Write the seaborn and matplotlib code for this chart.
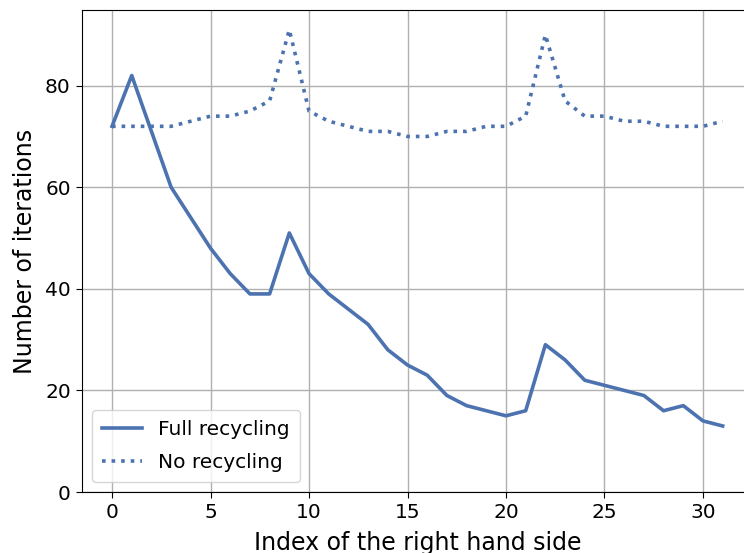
import matplotlib
matplotlib.use("Agg")
import matplotlib.pyplot as plt
import seaborn as sns
import pandas as pd

rhs_index = list(range(32))
full_recycling = [72, 82, 71, 60, 54, 48, 43, 39, 39, 51, 43, 39, 36, 33, 28, 25,
                  23, 19, 17, 16, 15, 16, 29, 26, 22, 21, 20, 19, 16, 17, 14, 13]
no_recycling = [72, 72, 72, 72, 73, 74, 74, 75, 77, 91, 75, 73, 72, 71, 71, 70,
                70, 71, 71, 72, 72, 74, 90, 77, 74, 74, 73, 73, 72, 72, 72, 73]
series_labels = ["Full recycling", "No recycling"]

df = pd.DataFrame({"idx": rhs_index, "full": full_recycling, "no": no_recycling})

fig = plt.figure(figsize=(7.44, 5.53), dpi=100)
ax = fig.add_axes([81.5 / 744, 61 / 553, 671.7 / 744, 482 / 553])
color = "#4c72b0"
sns.lineplot(data=df, x="idx", y="full", ax=ax, color=color, linewidth=2.6,
             label=series_labels[0])
sns.lineplot(data=df, x="idx", y="no", ax=ax, color=color, linewidth=2.6,
             linestyle=":", label=series_labels[1])
ax.set_ylim(bottom=0)
ax.grid(True, color="#b0b0b0", linewidth=1.0)
ax.set_axisbelow(True)
ax.set_xlabel("Index of the right hand side", fontsize=17, labelpad=7)
ax.set_ylabel("Number of iterations", fontsize=17, labelpad=6)
ax.tick_params(labelsize=14.5, length=4.2)
ax.legend(loc="lower left", fontsize=14.5, labelspacing=0.7, borderpad=0.5)
fig.savefig("out.png", dpi=100)
